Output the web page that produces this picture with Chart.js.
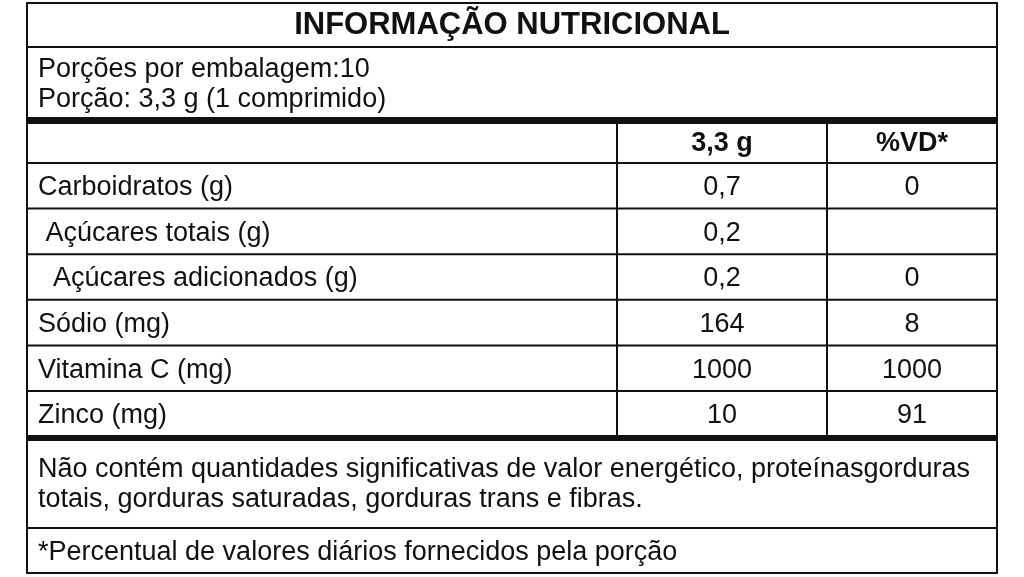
<!DOCTYPE html>
<html lang="pt-BR">
<head>
<meta charset="utf-8">
<title>Informação Nutricional</title>
<script src="https://cdn.jsdelivr.net/npm/chart.js@4.4.1/dist/chart.umd.min.js"></script>
<style>
    html, body { margin: 0; padding: 0; background: #fff; }
    #wrap { width: 1024px; height: 577px; position: relative; }
</style>
</head>
<body>
<div id="wrap"><canvas id="table-chart"></canvas></div>
<script>
/* ---------- Data ---------- */
const title = "INFORMAÇÃO NUTRICIONAL";
const servingInfo = ["Porções por embalagem:10", "Porção: 3,3 g (1 comprimido)"];
const columnHeaders = ["", "3,3 g", "%VD*"];
const nutrients = [
    "Carboidratos (g)",
    " Açúcares totais (g)",
    "  Açúcares adicionados (g)",
    "Sódio (mg)",
    "Vitamina C (mg)",
    "Zinco (mg)"
];
const perServing = ["0,7", "0,2", "0,2", "164", "1000", "10"];
const dailyValue = ["0", "", "0", "8", "1000", "91"];
const notes = [
    "Não contém quantidades significativas de valor energético, proteínasgorduras",
    "totais, gorduras saturadas, gorduras trans e fibras."
];
const footnote = "*Percentual de valores diários fornecidos pela porção";

/* ---------- Layout (scale units) ---------- */
const COL_EDGES = [0, 590, 800, 970];          // x scale units
const TITLE_BOTTOM = 44;
const INFO_BOTTOM = 117.5;                     // thick rule
const HEADER_BOTTOM = 160;
const ROW_H = 45.6;
const DATA_BOTTOM = 435;                       // thick rule
const NOTES_BOTTOM = 525;
const TABLE_BOTTOM = 570;

const FONT = "'Liberation Sans', Arial, Helvetica, sans-serif";
const INK = "#111";
const BODY = 27;

/* ---------- Table plugin ---------- */
const tablePlugin = {
    id: "nutritionTable",
    afterDraw(chart) {
        const ctx = chart.ctx;
        const xs = chart.scales.x;
        const ys = chart.scales.y;
        const X = v => xs.getPixelForValue(v);
        const Y = v => ys.getPixelForValue(v);

        const hLine = (y, x0, x1, w) => {
            ctx.beginPath();
            ctx.lineWidth = w;
            ctx.moveTo(X(x0), Y(y));
            ctx.lineTo(X(x1), Y(y));
            ctx.stroke();
        };
        const vLine = (x, y0, y1, w) => {
            ctx.beginPath();
            ctx.lineWidth = w;
            ctx.moveTo(X(x), Y(y0));
            ctx.lineTo(X(x), Y(y1));
            ctx.stroke();
        };
        const text = (str, x, y, align, bold, size) => {
            ctx.font = (bold ? "bold " : "") + size + "px " + FONT;
            ctx.textAlign = align;
            ctx.textBaseline = "middle";
            ctx.fillText(str, X(x), Y(y));
        };

        ctx.save();
        ctx.strokeStyle = INK;
        ctx.fillStyle = INK;

        // outer border
        ctx.lineWidth = 2;
        ctx.strokeRect(X(0), Y(0), X(970) - X(0), Y(TABLE_BOTTOM) - Y(0));

        // horizontal rules
        hLine(TITLE_BOTTOM, 0, 970, 2);
        hLine(INFO_BOTTOM, 0, 970, 7);
        hLine(HEADER_BOTTOM, 0, 970, 2);
        nutrients.forEach((_, i) => {
            if (i < nutrients.length - 1) hLine(HEADER_BOTTOM + ROW_H * (i + 1), 0, 970, 2);
        });
        hLine(DATA_BOTTOM, 0, 970, 6);
        hLine(NOTES_BOTTOM, 0, 970, 2);

        // column rules
        vLine(COL_EDGES[1], INFO_BOTTOM, DATA_BOTTOM, 2);
        vLine(COL_EDGES[2], INFO_BOTTOM, DATA_BOTTOM, 2);

        // title
        text(title, 485, 22, "center", true, 31);

        // serving info
        servingInfo.forEach((s, i) => text(s, 11, 67 + i * 30, "left", false, BODY));

        // header
        const headerMid = (INFO_BOTTOM + HEADER_BOTTOM) / 2 + 2;
        text(columnHeaders[1], (COL_EDGES[1] + COL_EDGES[2]) / 2, headerMid, "center", true, BODY);
        text(columnHeaders[2], (COL_EDGES[2] + COL_EDGES[3]) / 2, headerMid, "center", true, BODY);

        // data rows
        nutrients.forEach((name, i) => {
            const mid = HEADER_BOTTOM + ROW_H * (i + 0.5) + 2;
            text(name, 11, mid, "left", false, BODY);
            text(perServing[i], (COL_EDGES[1] + COL_EDGES[2]) / 2, mid, "center", false, BODY);
            text(dailyValue[i], (COL_EDGES[2] + COL_EDGES[3]) / 2, mid, "center", false, BODY);
        });

        // notes
        notes.forEach((s, i) => text(s, 11, 467 + i * 30, "left", false, BODY));
        text(footnote, 11, (NOTES_BOTTOM + TABLE_BOTTOM) / 2 + 2, "left", false, BODY);

        ctx.restore();
    }
};

/* ---------- Chart ---------- */
function init() {
    const ctx = document.getElementById("table-chart").getContext("2d");
    new Chart(ctx, {
        type: "scatter",
        data: { datasets: [] },
        options: {
            responsive: true,
            maintainAspectRatio: false,
            animation: false,
            layout: { padding: { left: 27, right: 27, top: 3, bottom: 4 } },
            plugins: { legend: { display: false }, tooltip: { enabled: false } },
            scales: {
                x: { type: "linear", min: 0, max: 970, display: false },
                y: { type: "linear", min: 0, max: TABLE_BOTTOM, reverse: true, display: false }
            }
        },
        plugins: [tablePlugin]
    });
}

document.addEventListener("DOMContentLoaded", init);
</script>
</body>
</html>
